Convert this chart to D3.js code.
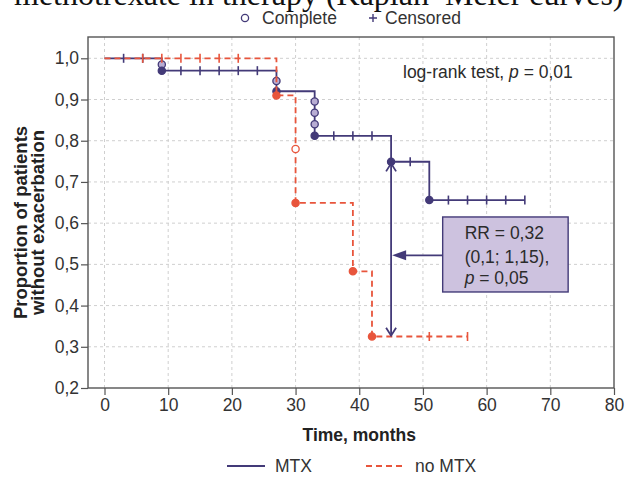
<!DOCTYPE html>
<html>
<head>
<meta charset="utf-8">
<script src="https://cdn.jsdelivr.net/npm/d3@7"></script>
<style>
body { margin: 0; background: #fff; }
svg { display: block; }
</style>
</head>
<body>
<svg id="chart" width="627" height="478"></svg>
<script>
// axis ticks
var xTicks = [0, 10, 20, 30, 40, 50, 60, 70, 80];
var yTicks = [0.2, 0.3, 0.4, 0.5, 0.6, 0.7, 0.8, 0.9, 1.0];
var yTickLabels = ["0,2", "0,3", "0,4", "0,5", "0,6", "0,7", "0,8", "0,9", "1,0"];

// MTX curve
var mtxTimes = [0, 9, 27, 33, 45, 51];
var mtxValues = [1.0, 0.97, 0.92, 0.812, 0.749, 0.656];
var mtxEnd = 66;
var mtxEventTimes = [9, 9, 27, 27, 33, 33, 33, 33, 45, 51];
var mtxEventValues = [0.985, 0.97, 0.945, 0.92, 0.895, 0.868, 0.84, 0.812, 0.749, 0.656];
var mtxCensorTimes = [3, 6, 12, 15, 18, 21, 24, 36, 39, 42, 48, 54, 57, 60, 63, 66];

// no MTX curve
var noMtxTimes = [0, 27, 30, 39, 42];
var noMtxValues = [1.0, 0.91, 0.649, 0.483, 0.325];
var noMtxEnd = 57;
var noMtxEventTimes = [27, 30, 30, 39, 42];
var noMtxEventValues = [0.91, 0.78, 0.649, 0.483, 0.325];
var noMtxCensorTimes = [6, 9, 12, 15, 18, 21, 51, 57];

var mtxColor = "#433a78";
var redColor = "#e8553c";
var font = "'Liberation Sans', Arial, sans-serif";

var svg = d3.select("#chart");

var plotLeft = 88, plotRight = 614, plotTop = 37, plotBottom = 388;
var x = d3.scaleLinear().domain([0, 80]).range([104.5, 614]);
var y = d3.scaleLinear().domain([0.2, 1.0]).range([388, 58.3]);

// cut-off title at the very top
svg.append("text")
    .attr("x", 14)
    .attr("y", 5)
    .attr("font-family", "'Liberation Serif', 'Times New Roman', serif")
    .attr("font-size", 32)
    .attr("fill", "#111")
    .text("methotrexate in therapy (Kaplan–Meier curves)");

// grid
svg.append("g")
    .selectAll("line")
    .data(xTicks.filter(function (d) { return d < 80; }))
    .join("line")
    .attr("x1", function (d) { return x(d); })
    .attr("x2", function (d) { return x(d); })
    .attr("y1", plotTop)
    .attr("y2", plotBottom)
    .attr("stroke", "#cfcfcf")
    .attr("stroke-dasharray", "3,3");

svg.append("g")
    .selectAll("line")
    .data(yTicks.filter(function (d) { return d > 0.2; }))
    .join("line")
    .attr("x1", plotLeft)
    .attr("x2", plotRight)
    .attr("y1", function (d) { return y(d); })
    .attr("y2", function (d) { return y(d); })
    .attr("stroke", "#cfcfcf")
    .attr("stroke-dasharray", "3,3");

// axes
var xAxis = d3.axisBottom(x).tickValues(xTicks).tickSize(7).tickPadding(4);
var gx = svg.append("g").attr("transform", "translate(0," + plotBottom + ")").call(xAxis);
var yAxis = d3.axisLeft(y).tickValues(yTicks).tickSize(7).tickPadding(2)
    .tickFormat(function (d, i) { return yTickLabels[i]; });
var gy = svg.append("g").attr("transform", "translate(" + plotLeft + ",0)").call(yAxis);

[gx, gy].forEach(function (g) {
    g.select(".domain").remove();
    g.selectAll(".tick line").attr("stroke", "#555").attr("stroke-width", 1.2);
    g.selectAll(".tick text")
        .attr("font-family", font)
        .attr("font-size", 17.5)
        .attr("fill", "#333");
});

// plot frame
svg.append("rect")
    .attr("x", plotLeft)
    .attr("y", plotTop)
    .attr("width", plotRight - plotLeft)
    .attr("height", plotBottom - plotTop)
    .attr("fill", "none")
    .attr("stroke", "#555")
    .attr("stroke-width", 1.4);

function stepValue(times, values, t) {
    var v = values[0];
    for (var i = 0; i < times.length; i++) {
        if (times[i] <= t) v = values[i];
    }
    return v;
}

var line = d3.line()
    .x(function (d) { return x(d[0]); })
    .y(function (d) { return y(d[1]); })
    .curve(d3.curveStepAfter);

function drawCurve(times, values, end, eventTimes, eventValues, censorTimes, color, dash, openFill) {
    var pts = times.map(function (t, i) { return [t, values[i]]; });
    pts.push([end, values[values.length - 1]]);

    svg.append("path")
        .attr("d", line(pts))
        .attr("fill", "none")
        .attr("stroke", color)
        .attr("stroke-width", 1.8)
        .attr("stroke-dasharray", dash);

    svg.append("g")
        .selectAll("line")
        .data(censorTimes)
        .join("line")
        .attr("x1", function (d) { return x(d); })
        .attr("x2", function (d) { return x(d); })
        .attr("y1", function (d) { return y(stepValue(times, values, d)) - 4.5; })
        .attr("y2", function (d) { return y(stepValue(times, values, d)) + 4.5; })
        .attr("stroke", color)
        .attr("stroke-width", 1.6);

    svg.append("g")
        .selectAll("circle")
        .data(eventTimes)
        .join("circle")
        .attr("cx", function (d) { return x(d); })
        .attr("cy", function (d, i) { return y(eventValues[i]); })
        .attr("r", 3.6)
        .attr("stroke", color)
        .attr("stroke-width", 1.3)
        .attr("fill", function (d, i) {
            return eventValues[i] == stepValue(times, values, d) ? color : openFill;
        });
}

drawCurve(mtxTimes, mtxValues, mtxEnd, mtxEventTimes, mtxEventValues, mtxCensorTimes, mtxColor, null, "#b8add3");
drawCurve(noMtxTimes, noMtxValues, noMtxEnd, noMtxEventTimes, noMtxEventValues, noMtxCensorTimes, redColor, "6,4", "#fff");

// RR annotation: vertical double arrow at 45 months, box with arrow
var ax = x(45);
var aTop = y(0.745), aBottom = y(0.327);
svg.append("line")
    .attr("x1", ax).attr("x2", ax)
    .attr("y1", aTop).attr("y2", aBottom)
    .attr("stroke", mtxColor).attr("stroke-width", 1.8);
svg.append("path")
    .attr("d", "M" + (ax - 5) + "," + (aTop + 8) + "L" + ax + "," + aTop + "L" + (ax + 5) + "," + (aTop + 8)
        + "M" + (ax - 5) + "," + (aBottom - 8) + "L" + ax + "," + aBottom + "L" + (ax + 5) + "," + (aBottom - 8))
    .attr("fill", "none")
    .attr("stroke", mtxColor)
    .attr("stroke-width", 1.8);

var boxL = x(53.1), boxR = x(72.8), boxT = y(0.615), boxB = y(0.433);
var arrowY = y(0.522);
svg.append("line")
    .attr("x1", boxL).attr("x2", ax + 10)
    .attr("y1", arrowY).attr("y2", arrowY)
    .attr("stroke", mtxColor).attr("stroke-width", 1.8);
svg.append("path")
    .attr("d", "M" + (ax + 1) + "," + arrowY + "L" + (ax + 15) + "," + (arrowY - 5) + "L" + (ax + 15) + "," + (arrowY + 5) + "Z")
    .attr("fill", mtxColor);

svg.append("rect")
    .attr("x", boxL)
    .attr("y", boxT)
    .attr("width", boxR - boxL)
    .attr("height", boxB - boxT)
    .attr("fill", "#cdc2df")
    .attr("stroke", mtxColor)
    .attr("stroke-width", 1.4);

var boxText = svg.append("text")
    .attr("font-family", font)
    .attr("font-size", 17.5)
    .attr("fill", "#2b2b2b");
boxText.append("tspan").attr("x", boxL + 22).attr("y", boxT + 22).text("RR = 0,32");
boxText.append("tspan").attr("x", boxL + 22).attr("y", boxT + 46).text("(0,1; 1,15),");
var l3 = boxText.append("tspan").attr("x", boxL + 22).attr("y", boxT + 67);
l3.append("tspan").attr("font-style", "italic").text("p");
l3.append("tspan").text(" = 0,05");

// log-rank text
var lr = svg.append("text")
    .attr("x", 403)
    .attr("y", 78)
    .attr("font-family", font)
    .attr("font-size", 17.5)
    .attr("fill", "#2b2b2b");
lr.append("tspan").text("log-rank test, ");
lr.append("tspan").attr("font-style", "italic").text("p");
lr.append("tspan").text(" = 0,01");

// top legend
svg.append("circle")
    .attr("cx", 245).attr("cy", 18).attr("r", 3.6)
    .attr("fill", "#fff").attr("stroke", mtxColor).attr("stroke-width", 1.3);
svg.append("text")
    .attr("x", 262).attr("y", 24)
    .attr("font-family", font).attr("font-size", 17.5).attr("fill", "#333")
    .text("Complete");
svg.append("path")
    .attr("d", "M369,18L377,18M373,14L373,22")
    .attr("stroke", mtxColor).attr("stroke-width", 1.4);
svg.append("text")
    .attr("x", 385).attr("y", 24)
    .attr("font-family", font).attr("font-size", 17.5).attr("fill", "#333")
    .text("Censored");

// axis titles
svg.append("text")
    .attr("x", x(40))
    .attr("y", 441)
    .attr("text-anchor", "middle")
    .attr("font-family", font)
    .attr("font-size", 17.5)
    .attr("font-weight", "bold")
    .attr("fill", "#222")
    .text("Time, months");

var yl = svg.append("text")
    .attr("transform", "translate(27," + ((plotTop + plotBottom) / 2 + 10) + ") rotate(-90)")
    .attr("text-anchor", "middle")
    .attr("font-family", font)
    .attr("font-size", 18.5)
    .attr("font-weight", "bold")
    .attr("fill", "#222");
yl.append("tspan").attr("x", 0).attr("y", 0).text("Proportion of patients");
yl.append("tspan").attr("x", 0).attr("y", 17).text("without exacerbation");

// bottom legend
svg.append("line")
    .attr("x1", 227).attr("x2", 265).attr("y1", 466).attr("y2", 466)
    .attr("stroke", mtxColor).attr("stroke-width", 1.8);
svg.append("text")
    .attr("x", 275).attr("y", 472)
    .attr("font-family", font).attr("font-size", 17.5).attr("fill", "#333")
    .text("MTX");
svg.append("line")
    .attr("x1", 366).attr("x2", 405).attr("y1", 466).attr("y2", 466)
    .attr("stroke", redColor).attr("stroke-width", 1.8).attr("stroke-dasharray", "6,4");
svg.append("text")
    .attr("x", 415).attr("y", 472)
    .attr("font-family", font).attr("font-size", 17.5).attr("fill", "#333")
    .text("no MTX");
</script>
</body>
</html>
